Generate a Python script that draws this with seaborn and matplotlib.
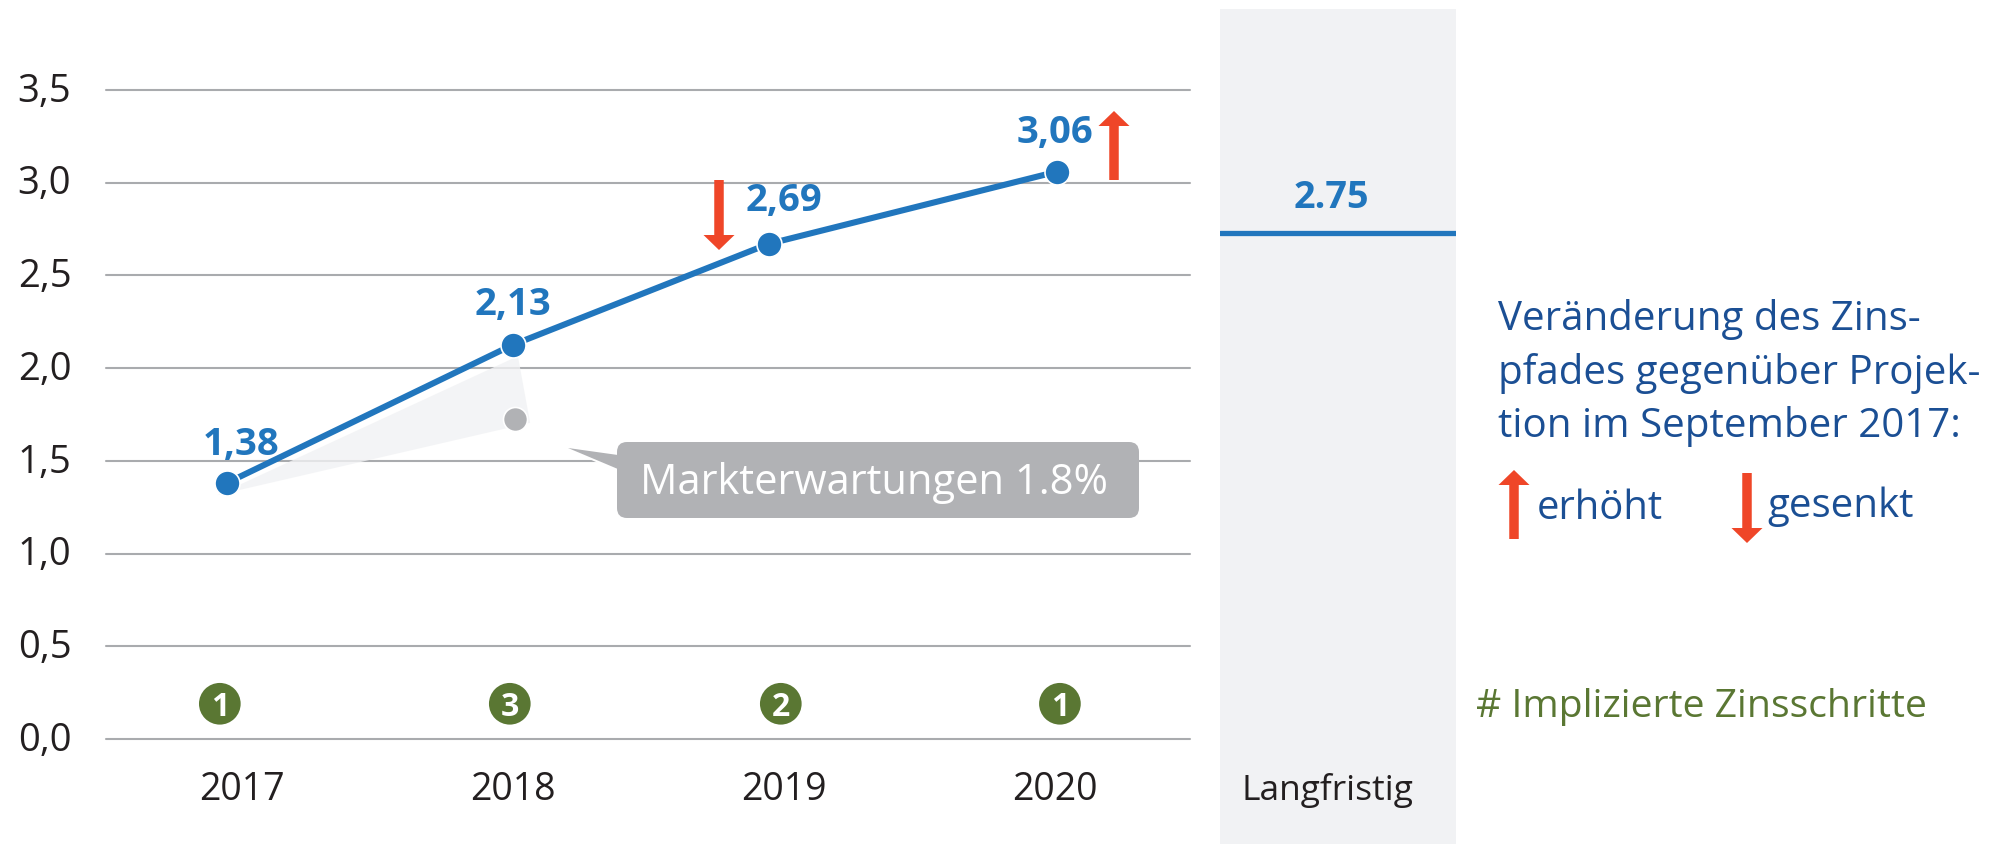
import matplotlib
matplotlib.use("Agg")
import matplotlib.pyplot as plt
import seaborn as sns
import pandas as pd
from matplotlib.patches import FancyBboxPatch, Polygon
from matplotlib.transforms import ScaledTranslation

# --- data ---
years = [2017, 2018, 2019, 2020]
point_x = [2016.945, 2018.0, 2018.945, 2020.01]
point_y = [1.38, 2.125, 2.67, 3.06]
point_labels = ["1,38", "2,13", "2,69", "3,06"]
label_dy = [38, 40, 43, 39]
market_x = [2018.01]
market_y = [1.725]
step_x = [2016.92, 2017.99, 2018.99, 2020.02]
step_y = [0.19, 0.19, 0.19, 0.19]
step_labels = ["1", "3", "2", "1"]
y_ticks = [0.0, 0.5, 1.0, 1.5, 2.0, 2.5, 3.0, 3.5]
y_labels = ["0,0", "0,5", "1,0", "1,5", "2,0", "2,5", "3,0", "3,5"]
long_run = 2.73
long_run_label = "2.75"

BLUE = "#2176BD"
NAVY = "#1B4F94"
RED = "#EF4628"
GREEN = "#5A7733"
GREY = "#B1B2B5"
GRID = "#A9ABAE"
PANEL = "#F1F2F4"
DARK = "#231F20"

sns.set_theme(style="white")
plt.rcParams["font.family"] = ["Open Sans", "DejaVu Sans"]

W, H = 2004, 844
fig = plt.figure(figsize=(W / 100, H / 100), dpi=100)


def box(left, top, right, bottom):
    return [left / W, 1 - bottom / H, (right - left) / W, (bottom - top) / H]


# --- main chart ---
ax = fig.add_axes(box(106, 90, 1190, 739), zorder=2)
ax.patch.set_alpha(0)
ax.set_xlim(2016.5, 2020.5)
ax.set_ylim(0, 3.5)
ax.set_yticks(y_ticks, y_labels)
ax.set_xticks(years, [str(y) for y in years])
ax.tick_params(axis="y", length=0, pad=25, labelsize=27.5, labelcolor=DARK)
ax.tick_params(axis="x", length=0, pad=23, labelsize=27, labelcolor=DARK)
sns.despine(ax=ax, left=True, bottom=True)
for v in y_ticks:
    ax.axhline(v, color=GRID, lw=1.5, zorder=1, clip_on=False)

# the y labels sit a little above their gridlines
nudge = ScaledTranslation(0, 2 / 72, fig.dpi_scale_trans)
for tick_label in ax.get_yticklabels():
    tick_label.set_transform(tick_label.get_transform() + nudge)

# shaded fan between forecast and market expectation
ax.fill([point_x[0] - 0.035, point_x[1] + 0.02, market_x[0] + 0.055],
        [point_y[0] - 0.065, point_y[1] - 0.06, market_y[0] - 0.02],
        color=PANEL, alpha=0.8, lw=0, zorder=1.5)

line_df = pd.DataFrame({"x": point_x, "y": point_y})
sns.lineplot(data=line_df, x="x", y="y", ax=ax, color=BLUE, lw=4.4, marker="o",
             markersize=18, markeredgecolor="white", markeredgewidth=1.2,
             zorder=4, clip_on=False)
sns.scatterplot(x=market_x, y=market_y, ax=ax, color=GREY, s=300,
                edgecolor="white", linewidth=1.2, zorder=4)
sns.scatterplot(x=step_x, y=step_y, ax=ax, color=GREEN, s=900,
                edgecolor="none", zorder=4)
ax.set_xlabel("")
ax.set_ylabel("")

for year, y, lbl, dy in zip(years, point_y, point_labels, label_dy):
    ax.annotate(lbl, (year, y), xytext=(0, dy * 0.72), textcoords="offset points",
                ha="center", va="center", fontsize=27.5, fontweight="bold",
                color=BLUE, zorder=5)
for x, y, lbl in zip(step_x, step_y, step_labels):
    ax.text(x, y, lbl, ha="center", va="center_baseline", fontsize=23,
            fontweight="bold", color="white", zorder=5)

# --- long-run panel, same y scale as the main chart ---
ax_lr = fig.add_axes(box(1220, 9, 1456, 844), zorder=1)
ax_lr.set_facecolor(PANEL)
ax_lr.set_xlim(0, 1)
ax_lr.set_ylim(-105 / 185.43, 730 / 185.43)
ax_lr.set_xticks([])
ax_lr.set_yticks([])
sns.despine(ax=ax_lr, left=True, bottom=True)
sns.lineplot(x=[0, 1], y=[long_run, long_run], ax=ax_lr, color=BLUE, lw=3.8)
ax_lr.set_xlabel("")
ax_lr.set_ylabel("")

# --- overlay in pixel coordinates for callout, arrows and side notes ---
ov = fig.add_axes([0, 0, 1, 1], zorder=3)
ov.set_xlim(0, W)
ov.set_ylim(H, 0)
ov.axis("off")
ov.patch.set_alpha(0)

# white halo cuts the gridline around the callout tail
ov.add_patch(Polygon([(566, 447), (621, 455), (621, 471)], closed=True,
                     fc="white", ec="white", lw=2.5, joinstyle="round"))
ov.add_patch(FancyBboxPatch((627, 452), 502, 56, boxstyle="round,pad=10,rounding_size=10",
                            fc=GREY, ec="none"))
ov.add_patch(Polygon([(568, 448), (625, 456), (625, 472)], closed=True, fc=GREY, ec="none"))
ov.text(874, 483, "Markterwartungen 1.8%", ha="center", va="center",
        fontsize=30, color="white")


def arrow(cx, tail, tip, shaft=9.5, head_w=31, head_l=15):
    d = 1 if tip > tail else -1
    neck = tip - d * head_l
    ov.add_patch(Polygon([(cx - shaft / 2, tail), (cx + shaft / 2, tail),
                          (cx + shaft / 2, neck), (cx + head_w / 2, neck),
                          (cx, tip), (cx - head_w / 2, neck),
                          (cx - shaft / 2, neck)],
                         closed=True, fc=RED, ec="none"))


arrow(1114, 180, 111)
arrow(719, 180, 250)
arrow(1514, 539, 470)
arrow(1747, 473, 543)

ov.text(1331, 198, long_run_label, ha="center", va="center", fontsize=27.3,
        fontweight="bold", color=BLUE)
ov.text(1327, 790, "Langfristig", ha="center", va="center", fontsize=25.5, color=DARK)

for txt, base in zip(["Veränderung des Zins-", "pfades gegenüber Projek-",
                      "tion im September 2017:"], [330, 384, 437]):
    ov.text(1498, base, txt, ha="left", va="baseline", fontsize=29, color=NAVY)
ov.text(1537, 519, "erhöht", ha="left", va="baseline", fontsize=28.8, color=NAVY)
ov.text(1767, 517, "gesenkt", ha="left", va="baseline", fontsize=29, color=NAVY)
ov.text(1476, 707, "# Implizierte Zinsschritte", ha="left", va="center",
        fontsize=28.2, color=GREEN)

fig.savefig("out.png", dpi=100)
